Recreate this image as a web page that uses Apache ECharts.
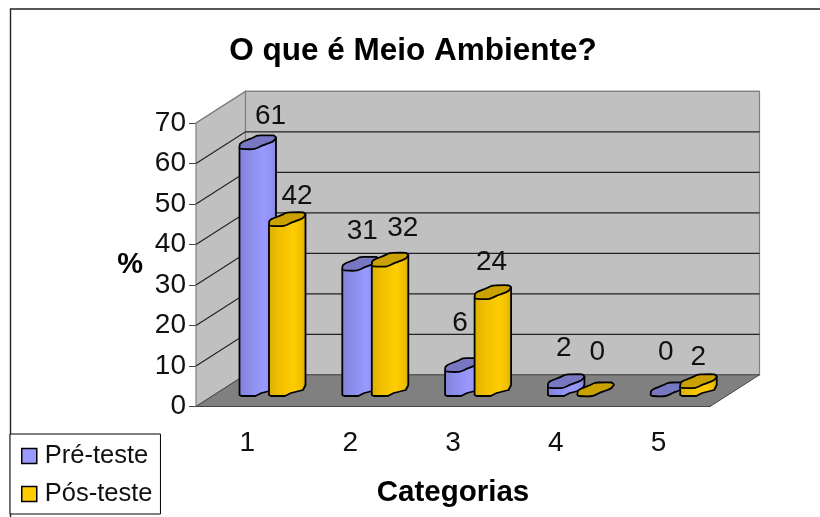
<!DOCTYPE html>
<html>
<head>
<meta charset="utf-8">
<style>html,body{margin:0;padding:0;background:#fff}#chart{width:820px;height:517px}</style>
<script src="https://cdn.jsdelivr.net/npm/echarts@6/dist/echarts.min.js"></script>
</head>
<body>
<div id="chart"></div>
<script>
// Survey results: pre-test and post-test shares per category
const categories = ['1', '2', '3', '4', '5'];
const preTeste = [61, 31, 6, 2, 0];
const posTeste = [42, 32, 24, 0, 2];
const wallTicks = [10, 20, 30, 40, 50, 60, 70];

// Hand-placed label offsets from each column's front-left top corner
const preLabelNudge = [[31, -33], [20, -39], [15, -48], [16, -40], [15, -44]];
const posLabelNudge = [[28, -30], [31, -38], [17, -37], [20, -44], [18, -31]];

// 3D box projection, in pixels
const DEPTH_X = 49.5, DEPTH_Y = 31.7;
const FONT = '"Liberation Sans", Arial, sans-serif';
const BASE_LIFT = 10.5;         // columns stand this far behind the front edge
const COL_WIDTH = 36.5;
const PRE_INSET = 43.5, POS_INSET = 73;

// Faceted cylinder cap and foot outlines relative to the front-left corner
const CAP = [[0,-1],[0.5,-5],[3,-7],[9,-9.5],[13,-11],[17,-13],[21,-13.5],[34,-13.5],[36.5,-11.5],
             [34,-8],[30,-6],[22,-3],[15,0],[2,0]];
const FOOT = [[2,0],[16,0],[22,-3],[30,-5],[34,-6],[36.5,-11]];

function columnItem(values, inset, nudges, body, cap) {
  return function (params, api) {
    const i = api.value(0), v = values[i];
    const band = api.size([1, 0])[0];
    const left = api.coord([i, 0])[0] - band / 2 + inset;
    const footY = api.coord([i, 0])[1] - BASE_LIFT;
    const topY = api.coord([i, v])[1] - BASE_LIFT;
    const capPts = CAP.map(p => [left + p[0], topY + p[1]]);
    const children = [];
    if (v > 0) {
      const bodyPts = [[left, topY - 1], [left, footY - 1]]
        .concat(FOOT.map(p => [left + p[0], footY + p[1]]))
        .concat([[left + COL_WIDTH, topY - 11.5]]);
      children.push({
        type: 'polygon',
        shape: { points: bodyPts },
        style: {
          fill: new echarts.graphic.LinearGradient(0, 0, 1, 0, body),
          stroke: '#000', lineWidth: 1.8, lineJoin: 'round'
        }
      });
    }
    children.push({
      type: 'polygon',
      shape: { points: capPts, smooth: 0.15 },
      style: { fill: cap, stroke: '#000', lineWidth: 1.8, lineJoin: 'round' }
    });
    children.push({
      type: 'text',
      z2: 20,
      style: {
        x: left + nudges[i][0], y: topY + nudges[i][1],
        text: String(v), align: 'center', verticalAlign: 'middle',
        font: '28px ' + FONT, fill: '#111'
      }
    });
    return { type: 'group', children };
  };
}

const preBody = [
  { offset: 0, color: '#8181d8' }, { offset: 0.3, color: '#8d8dec' },
  { offset: 0.65, color: '#9999ff' }, { offset: 0.85, color: '#9292f2' }, { offset: 1, color: '#8484da' }
];
const posBody = [
  { offset: 0, color: '#dcae00' }, { offset: 0.3, color: '#f0c000' },
  { offset: 0.65, color: '#ffcc00' }, { offset: 0.85, color: '#f2c200' }, { offset: 1, color: '#d8aa00' }
];

const option = {
  animation: false,
  backgroundColor: '#fff',
  title: {
    text: 'O que é Meio Ambiente?',
    left: 408, top: 30, textAlign: 'center',
    textStyle: { fontFamily: FONT, fontWeight: 'bold', fontSize: 31.5, color: '#000' }
  },
  legend: {
    left: 10, top: 434, orient: 'vertical', selectedMode: false,
    data: ['Pré-teste', 'Pós-teste'],
    itemWidth: 15, itemHeight: 15, itemGap: 12, icon: 'rect',
    padding: [9, 8, 7, 11],
    borderColor: '#000', borderWidth: 1, backgroundColor: '#fff',
    itemStyle: { borderColor: '#000', borderWidth: 1.5 },
    textStyle: { fontFamily: FONT, fontSize: 25.5, color: '#111', padding: [0, 0, 0, 3] }
  },
  grid: { left: 196, top: 123, width: 514, height: 283.5 },
  xAxis: {
    type: 'category', data: categories,
    name: 'Categorias', nameLocation: 'middle', nameGap: 71,
    nameTextStyle: { fontFamily: FONT, fontWeight: 'bold', fontSize: 29.5, color: '#000' },
    axisLine: { lineStyle: { color: '#000', width: 1.2 } },
    axisTick: { length: 6, lineStyle: { color: '#444' } },
    axisLabel: { fontFamily: FONT, fontSize: 28, color: '#111', margin: 23 },
    splitLine: { show: false }
  },
  yAxis: {
    type: 'value', min: 0, max: 70, interval: 10,
    name: '%', nameLocation: 'middle', nameGap: 53, nameRotate: 0,
    nameTextStyle: { fontFamily: FONT, fontWeight: 'bold', fontSize: 29, color: '#000' },
    axisLine: { show: true, lineStyle: { color: '#777', width: 1 } },
    axisTick: { show: true, length: 7, lineStyle: { color: '#444' } },
    axisLabel: { fontFamily: FONT, fontSize: 28, color: '#111', margin: 10 },
    splitLine: { show: false }
  },
  graphic: [{
    type: 'polyline', silent: true, z: -1,
    shape: { points: [[10.5, 517], [10.5, 9], [820, 9]] },
    style: { stroke: '#222', lineWidth: 1.4, fill: null }
  }],
  series: [
    {
      // side wall, back wall and floor of the 3D box
      name: 'box', type: 'custom', coordinateSystem: 'cartesian2d', silent: true, z: 1, clip: false,
      data: [[0, 0]],
      renderItem(params, api) {
        const band = api.size([1, 0])[0];
        const l = api.coord([0, 0])[0] - band / 2;
        const r = api.coord([categories.length - 1, 0])[0] + band / 2;
        const b = api.coord([0, 0])[1];
        const t = api.coord([0, 70])[1];
        const wall = { fill: '#c0c0c0', stroke: '#808080', lineWidth: 1.2 };
        return {
          type: 'group',
          children: [
            { type: 'polygon', shape: { points: [[l, t], [l + DEPTH_X, t - DEPTH_Y], [l + DEPTH_X, b - DEPTH_Y], [l, b]] }, style: wall },
            { type: 'polygon', shape: { points: [[l + DEPTH_X, t - DEPTH_Y], [r + DEPTH_X, t - DEPTH_Y], [r + DEPTH_X, b - DEPTH_Y], [l + DEPTH_X, b - DEPTH_Y]] }, style: wall },
            { type: 'polygon', shape: { points: [[l, b], [l + DEPTH_X, b - DEPTH_Y], [r + DEPTH_X, b - DEPTH_Y], [r, b]] },
              style: { fill: '#808080', stroke: '#444', lineWidth: 1 } }
          ]
        };
      }
    },
    {
      // gridlines running around the side and back walls
      name: 'gridlines', type: 'custom', coordinateSystem: 'cartesian2d', silent: true, z: 2, clip: false,
      data: wallTicks.map(v => [0, v]),
      renderItem(params, api) {
        const v = api.value(1);
        const band = api.size([1, 0])[0];
        const p = api.coord([0, v]);
        const l = p[0] - band / 2;
        const r = api.coord([categories.length - 1, 0])[0] + band / 2;
        const isTop = v === wallTicks[wallTicks.length - 1];
        return {
          type: 'polyline',
          shape: { points: [[l, p[1]], [l + DEPTH_X, p[1] - DEPTH_Y], [r + DEPTH_X, p[1] - DEPTH_Y]] },
          style: { stroke: isTop ? '#808080' : '#222', lineWidth: 1.2, fill: null }
        };
      }
    },
    {
      name: 'Pré-teste', type: 'custom', coordinateSystem: 'cartesian2d', z: 3, clip: false,
      itemStyle: { color: '#9999ff' },
      data: preTeste.map((v, i) => [i, v]),
      renderItem: columnItem(preTeste, PRE_INSET, preLabelNudge, preBody, '#7878c2')
    },
    {
      name: 'Pós-teste', type: 'custom', coordinateSystem: 'cartesian2d', z: 4, clip: false,
      itemStyle: { color: '#ffcc00' },
      data: posTeste.map((v, i) => [i, v]),
      renderItem: columnItem(posTeste, POS_INSET, posLabelNudge, posBody, '#c9a100')
    }
  ]
};

const chart = echarts.init(document.getElementById('chart'), null, { renderer: 'canvas' });
chart.setOption(option);
</script>
</body>
</html>
